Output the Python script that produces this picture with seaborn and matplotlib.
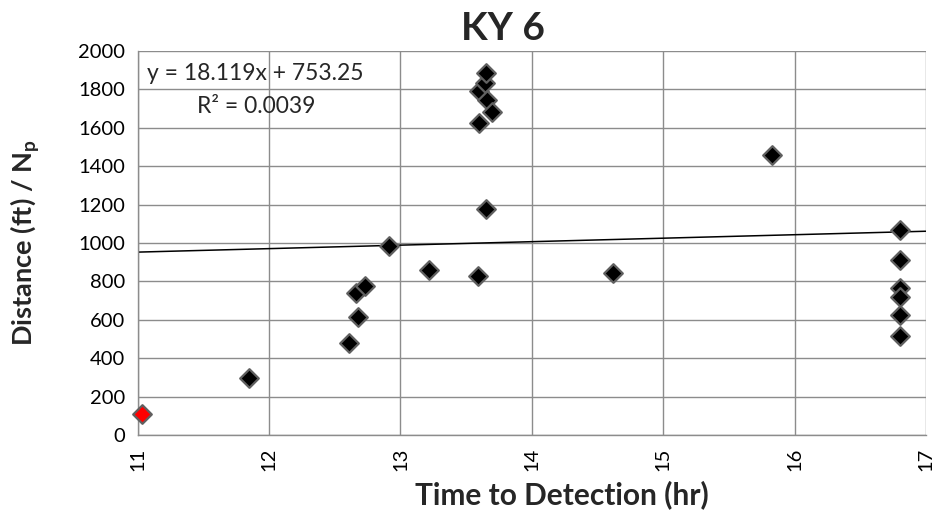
import matplotlib
matplotlib.use("Agg")
import matplotlib.pyplot as plt
from matplotlib.ticker import MultipleLocator
import numpy as np
import pandas as pd
import seaborn as sns

# Detection times (hr) and distance per Np (ft)
time_hr = [11.85, 12.61, 12.66, 12.68, 12.73, 12.91, 13.22, 13.59,
           13.60, 13.60, 13.64, 13.65, 13.65, 13.66, 13.70,
           14.62, 15.83, 16.80, 16.80, 16.80, 16.80, 16.80, 16.80]
distance = [297, 480, 742, 615, 777, 986, 857, 829,
            1626, 1791, 1835, 1883, 1179, 1744, 1683,
            843, 1460, 1070, 913, 765, 720, 625, 515]

# Highlighted sample
red_time = [11.03]
red_distance = [110]

# Linear trendline reported on the chart
slope = 18.119
intercept = 753.25
r_squared = 0.0039
x_range = [11, 17]

sns.set_style("white")
plt.rcParams["font.family"] = ["Lato", "DejaVu Sans"]
plt.rcParams["mathtext.fontset"] = "custom"
plt.rcParams["mathtext.rm"] = "Lato"
plt.rcParams["mathtext.bf"] = "Lato:weight=bold"

fig = plt.figure(figsize=(9.39, 5.15), dpi=100)
ax = fig.add_axes([0.1467, 0.1553, 0.8393, 0.7457])

grid_c = "#8c8c8c"
ax.set_xlim(11, 17)
ax.set_ylim(0, 2000)
ax.xaxis.set_major_locator(MultipleLocator(1))
ax.xaxis.set_minor_locator(MultipleLocator(0.2))
ax.yaxis.set_major_locator(MultipleLocator(200))
ax.yaxis.set_minor_locator(MultipleLocator(40))
ax.grid(True, which="major", color=grid_c, linewidth=1.0)
ax.set_axisbelow(True)

for side in ["top", "right"]:
    ax.spines[side].set_visible(False)
for side in ["left", "bottom"]:
    ax.spines[side].set_color(grid_c)
    ax.spines[side].set_linewidth(1.0)

ax.tick_params(axis="both", which="major", direction="out", length=6,
               width=1.0, color=grid_c, labelsize=14.5, labelcolor="black", pad=3)
ax.tick_params(axis="both", which="minor", direction="in", length=4,
               width=1.0, color=grid_c)
ax.tick_params(axis="x", which="major", labelrotation=90)

# trendline
xs = np.array(x_range, dtype=float)
ax.plot(xs, slope * xs + intercept, color="black", linewidth=1.1, zorder=2)

df = pd.DataFrame({"time": time_hr, "distance": distance})
df_red = pd.DataFrame({"time": red_time, "distance": red_distance})
sns.scatterplot(data=df, x="time", y="distance", ax=ax, marker="D", s=90,
                color="black", edgecolor="#606060", linewidth=1.6, zorder=3,
                clip_on=False)
sns.scatterplot(data=df_red, x="time", y="distance", ax=ax, marker="D", s=90,
                color="#ff0000", edgecolor="#606060", linewidth=1.6, zorder=3,
                clip_on=False)

ax.text(11.07, 1883, f"y = {slope}x + {intercept}", fontsize=16.5,
        va="center", ha="left")
ax.text(11.45, 1711, f"R² = {r_squared}", fontsize=16.5, va="center", ha="left")

fig.text(503 / 939, 1 - 40 / 515, "KY 6", fontsize=28, fontweight="bold",
         ha="center", va="baseline")

xl = ax.set_xlabel("Time to Detection (hr)", fontsize=21.5, fontweight="bold")
xl.set_va("center")
ax.xaxis.set_label_coords(0.538, -0.155)

yl = ax.set_ylabel(r"Distance (ft) / N$_\mathbf{p}$", fontsize=19.5,
                   fontweight="bold")
yl.set_va("center")
ax.yaxis.set_label_coords(-0.143, 0.5)

fig.savefig("out.png", dpi=100)
